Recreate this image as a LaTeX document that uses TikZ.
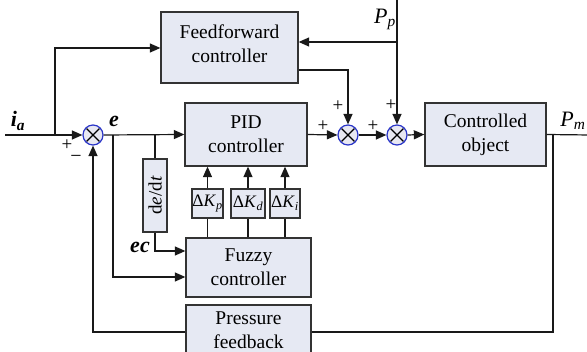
\documentclass[tikz,border=0pt]{standalone}
\usepackage{fontspec}
\setmainfont{Liberation Serif}
\usetikzlibrary{arrows.meta}
\definecolor{boxfill}{HTML}{E6E9F3}
\definecolor{sumfill}{HTML}{E8E8F2}
\definecolor{sumline}{HTML}{2A35C8}
\begin{document}
\begin{tikzpicture}[x=1pt,y=-1pt,
  blk/.style={draw=black!80, line width=1.3pt, fill=boxfill, align=center, inner sep=0pt, font=\fontsize{19.5}{24}\selectfont},
  txt/.style={align=center, inner sep=0pt, font=\fontsize{19.5}{24}\selectfont},
  kbox/.style={draw=black!80, line width=1.2pt, fill=boxfill, inner sep=0pt, font=\fontsize{17.5}{18}\selectfont},
  sumc/.style={circle, draw=sumline, fill=sumfill, line width=1.2pt, minimum size=20pt, inner sep=0pt,
    path picture={
      \draw[black, line width=1.1pt] ([shift={(-6.4pt,-6.4pt)}]path picture bounding box.center) -- ([shift={(6.4pt,6.4pt)}]path picture bounding box.center)
      ([shift={(-6.4pt,6.4pt)}]path picture bounding box.center) -- ([shift={(6.4pt,-6.4pt)}]path picture bounding box.center);}},
  conn/.style={line width=1.2pt, black!90},
  arr/.style={conn, -{Triangle[length=10.5pt,width=9pt]}},
  lbl/.style={inner sep=0pt, font=\fontsize{22}{24}\selectfont},
  pm/.style={inner sep=0pt, font=\fontsize{19}{19}\selectfont}
]
\clip (0,0) rectangle (587,352);
\fill[white] (0,0) rectangle (587,352);

% blocks
\node[blk, minimum width=137pt, minimum height=71pt] (ff) at (229.5,47.5) {};
\node[txt] (fft) at (229.5,43.5) {Feedforward\\controller};
\node[blk, minimum width=122pt, minimum height=63pt] (pid) at (246,134.5) {PID\\controller};
\node[blk, minimum width=121pt, minimum height=63pt] (obj) at (485.5,134.5) {Controlled\\object};
\node[blk, minimum width=125pt, minimum height=59pt] (fz) at (248.5,267.5) {Fuzzy\\controller};
\node[blk, minimum width=125pt, minimum height=64pt] (pf) at (248.5,337) {};
\node[txt] (pft) at (248.5,330) {Pressure\\feedback};
\node[kbox, minimum width=24pt, minimum height=73pt] (dd) at (155,195.5) {};
\node[inner sep=0pt, rotate=90, font=\fontsize{19}{20}\selectfont] (ddt) at (155,195.5) {d\textit{e}/d\textit{t}};
\node[kbox, minimum width=31pt, minimum height=29pt] (kp) at (207.5,203.5) {Δ\textit{K}\textsubscript{\textit{p}}};
\node[kbox, minimum width=34pt, minimum height=29pt] (kd) at (248,203.5) {Δ\textit{K}\textsubscript{\textit{d}}};
\node[kbox, minimum width=30pt, minimum height=29pt] (ki) at (285,203.5) {Δ\textit{K}\textsubscript{\textit{i}}};

% summing junctions
\node[sumc] (s1) at (93,135) {};
\node[sumc] (s2) at (348,135) {};
\node[sumc] (s3) at (397,135) {};

% coordinates
\coordinate (in) at (5,135);
\coordinate (b1) at (55,135);
\coordinate (b2) at (113,135);
\coordinate (b3) at (155,135);
\coordinate (pptop) at (397,0);
\coordinate (ppb) at (397,42);
\coordinate (out) at (590,135);
\coordinate (fb) at (553,135);

% connectors
\draw[arr] (in) -- (s1.west);
\draw[arr] (b1) |- ([yshift=-0.5pt]ff.west);
\draw[arr] (s1.east) -- (pid.west);
\draw[arr] (b2) |- (fz.west |- 0,277);
\draw[conn] (b3) -- (dd.north);
\draw[arr] (dd.south) |- (fz.west |- 0,251);
\foreach \k in {kp,kd,ki}{
  \draw[conn] (fz.north -| \k.south) -- (\k.south);
  \draw[arr] (\k.north) -- (pid.south -| \k.north);
}
\draw[arr] (pid.east) -- (s2.west);
\draw[arr] (ff.east |- 0,70) -| (s2.north);
\draw[arr] (s2.east) -- (s3.west);
\draw[arr] (pptop) -- (s3.north);
\draw[arr] (ppb) -- (ff.east |- ppb);
\draw[arr] (s3.east) -- (obj.west);
\draw[conn] (obj.east) -- (out);
\draw[conn] (fb) |- (pf.east |- 0,332);
\draw[arr] (pf.west |- 0,332) -| (s1.south);

% labels
\node[lbl] (lia) at (18,121) {\textbf{\textit{i}}\textsubscript{\textbf{\textit{a}}}};
\node[lbl] (le) at (114,121) {\textbf{\textit{e}}};
\node[lbl] (lec) at (140,247) {\textbf{\textit{ec}}};
\node[lbl] (lpp) at (385,19) {\textit{P}\textsubscript{\textit{p}}};
\node[lbl] (lpm) at (573,121) {\textit{P}\textsubscript{\textit{m}}};
\node[pm] (p1) at (67,145) {+};
\node[pm, font=\fontsize{20}{20}\selectfont] (m1) at (76,159) {−};
\node[pm] (p2) at (338,106) {+};
\node[pm] (p3) at (323,126) {+};
\node[pm] (p4) at (373,126) {+};
\node[pm] (p5) at (391,105) {+};
\end{tikzpicture}
\end{document}
